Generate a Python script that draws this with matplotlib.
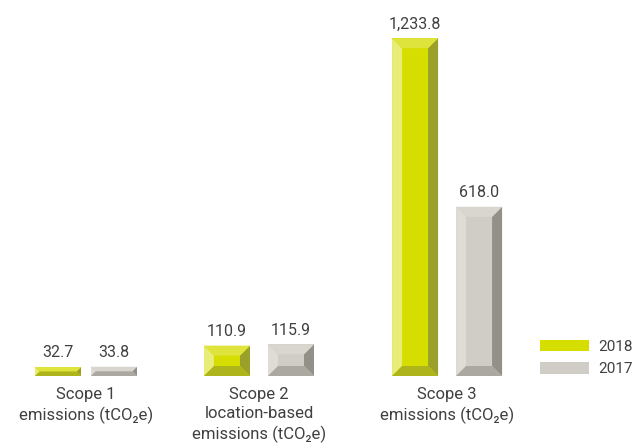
import matplotlib
matplotlib.use('Agg')
import matplotlib.pyplot as plt
from matplotlib.patches import Polygon, Patch
import numpy as np

plt.rcParams['font.family'] = ['Roboto', 'DejaVu Sans']

# data
categories = ['Scope 1\nemissions (tCO\u2082e)',
              'Scope 2\nlocation-based\nemissions (tCO\u2082e)',
              'Scope 3\nemissions (tCO\u2082e)']
years = ['2018', '2017']
vals_2018 = [32.7, 110.9, 1233.8]
vals_2017 = [33.8, 115.9, 618.0]
labels_2018 = ['32.7', '110.9', '1,233.8']
labels_2017 = ['33.8', '115.9', '618.0']

# colours: front, left, right, top, bottom
green = ['#d6de00', '#e8ec78', '#9aa12a', '#dee43c', '#adb41c']
grey = ['#d0ccc6', '#dfdbd5', '#938f89', '#d9d5cf', '#aba7a1']
text_col = '#404040'

W, H, DPI = 6.35, 4.44, 100
fig = plt.figure(figsize=(W, H), dpi=DPI)
base_px = 376
top_frac = 1 - 20 / 444.0
ax = fig.add_axes([0, (444 - base_px) / 444.0, 1, top_frac - (444 - base_px) / 444.0])

px_per_x = 180.0
ax.set_xlim(-86 / px_per_x, (635 - 86) / px_per_x)
ax_h_px = (top_frac - (444 - base_px) / 444.0) * 444
px_per_y = 0.2738
ax.set_ylim(0, ax_h_px / px_per_y)
ax.axis('off')

xs = np.array([0.0, 0.961, 2.006])
bw = 46 / px_per_x
gaps = np.array([10, 18, 18]) / px_per_x
off = (bw + gaps) / 2


def bevel(bars, cols):
    for b in bars:
        x0 = b.get_x()
        x1 = x0 + b.get_width()
        h = b.get_height()
        t = min(10.0, h * px_per_y / 2)
        bx = t / px_per_x
        by = t / px_per_y
        facets = [
            ([(x0, 0), (x0 + bx, by), (x0 + bx, h - by), (x0, h)], cols[1]),
            ([(x1, 0), (x1, h), (x1 - bx, h - by), (x1 - bx, by)], cols[2]),
            ([(x0, h), (x1, h), (x1 - bx, h - by), (x0 + bx, h - by)], cols[3]),
            ([(x0, 0), (x1, 0), (x1 - bx, by), (x0 + bx, by)], cols[4]),
        ]
        for pts, c in facets:
            ax.add_patch(Polygon(pts, closed=True, facecolor=c, edgecolor='none'))


b18 = ax.bar(xs - off, vals_2018, bw, color=green[0], linewidth=0)
b17 = ax.bar(xs + off, vals_2017, bw, color=grey[0], linewidth=0)
bevel(b18, green)
bevel(b17, grey)

for bars, labs in [(b18, labels_2018), (b17, labels_2017)]:
    for b, lab in zip(bars, labs):
        ax.annotate(lab, (b.get_x() + b.get_width() / 2, b.get_height()),
                    xytext=(0, 7), textcoords='offset points',
                    ha='center', va='baseline', fontsize=11.5, color=text_col)

for x, cat in zip(xs, categories):
    ax.annotate(cat, (x, 0), xytext=(0, -8), textcoords='offset points',
                ha='center', va='top', fontsize=12, color=text_col,
                linespacing=1.35)

handles = [Patch(facecolor=green[0], edgecolor='none'),
           Patch(facecolor=grey[0], edgecolor='none')]
fig.legend(handles, years, loc='center left', bbox_to_anchor=(540 / 635, (444 - 358) / 444),
           frameon=False, borderpad=0, borderaxespad=0, fontsize=11,
           handlelength=3.2, handleheight=0.78, handletextpad=0.6,
           labelspacing=0.55, labelcolor=text_col)

fig.savefig('out.png', dpi=DPI)
